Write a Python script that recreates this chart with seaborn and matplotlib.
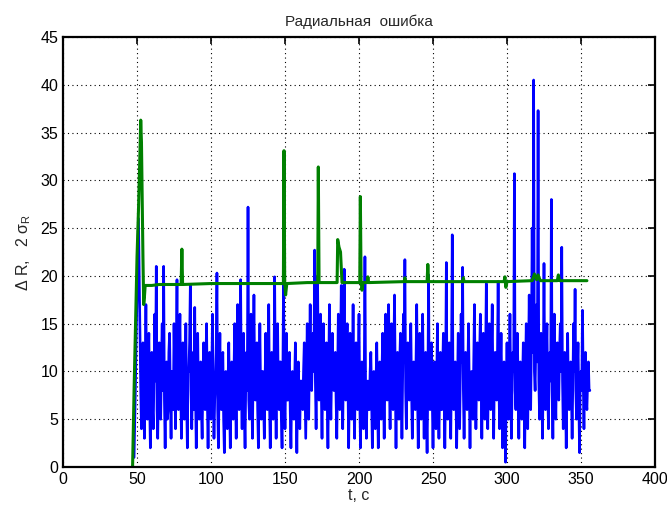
import numpy as np
import pandas as pd
import matplotlib
matplotlib.use("Agg")
import matplotlib.pyplot as plt
import seaborn as sns

# radial error dR, one value every 0.5 s starting at t = 48 s (one row = 10 s)
t_start = 48
t_step = 0.5
dR = [
    1, 5, 9, 14, 18, 22, 26, 20, 14, 8, 4, 9, 13, 7, 3, 10, 17, 9, 5, 11,
    14, 7, 2, 8, 12, 6, 4, 10, 16, 9, 21, 6, 3, 9, 13, 7, 5, 11, 15, 8,
    21, 7, 2, 9, 11, 5, 6, 12, 14, 8, 3, 10, 9, 6, 15, 9, 4, 11, 19.6, 7,
    6, 12, 16, 8, 3, 10, 13, 6, 5, 9, 15, 7, 2, 10, 10, 13, 19, 8, 4, 9,
    12, 6, 16.7, 8, 2, 9, 14, 7, 5, 10, 11, 6, 3, 9, 13, 8, 6, 11, 15, 7,
    2, 8, 12, 6, 5, 10, 16, 8, 3, 7, 9, 12, 20.3, 6, 2, 9, 14, 7, 6, 11,
    12, 5, 1.5, 8, 10, 6, 4, 9, 13, 7, 2, 8, 11, 6, 5, 10, 15, 8, 3, 9,
    17, 7, 6, 12, 19.6, 8, 4, 10, 14, 6, 2, 9, 12, 8, 27.2, 7, 5, 10, 16, 8,
    3, 11, 18, 9, 7, 12, 13, 6, 2, 9, 15, 8, 5, 10, 10, 7, 3, 9, 14, 8,
    6, 11, 17, 7, 2, 9, 12, 6, 5, 10, 19.9, 8, 3, 9, 15, 7, 6, 11, 11, 5,
    2, 9, 20, 8, 4, 10, 14, 7, 7, 11, 12, 6, 2, 8, 10, 6, 5, 9, 13, 7,
    1.5, 8, 11, 6, 4, 9, 9, 7, 6, 10, 13, 8, 3, 9, 15, 7, 5, 11, 17, 9,
    8, 12, 14, 10, 22.7, 9, 4, 11, 20, 10, 7, 12, 16, 8, 3, 10, 15, 9, 6, 11,
    13, 7, 2, 9, 17, 8, 5, 10, 14, 9, 8, 11, 12, 7, 3, 9, 16, 10, 6, 12,
    19, 9, 4, 11, 20.7, 8, 7, 12, 15, 9, 2, 8, 14, 10, 5, 9, 17, 7, 3, 10,
    13, 8, 6, 11, 16, 7, 2, 8, 11, 6, 4, 9, 22, 7, 3, 8, 9, 6, 6, 10,
    12, 7, 2, 8, 10, 6, 4, 9, 13, 7, 2, 8, 11, 6, 5, 10, 14, 8, 3, 9,
    16, 10, 7, 12, 17, 9, 4, 11, 15, 8, 6, 12, 18, 9, 2, 10, 12, 8, 5, 11,
    14, 9, 3, 10, 16, 11, 21.7, 8, 4, 10, 13, 9, 7, 12, 15, 8, 3, 9, 11, 7,
    6, 11, 17, 8, 2, 9, 14, 7, 5, 10, 16, 8, 3, 9, 12, 6, 1.5, 8, 20.1, 7,
    6, 10, 13, 7, 2, 8, 11, 6, 4, 9, 15, 7, 3, 8, 12, 6, 6, 10, 14, 8,
    2, 9, 21.4, 7, 5, 10, 13, 8, 3, 11, 24.3, 9, 6, 10, 11, 7, 2, 8, 14, 9,
    4, 10, 16, 11, 20.9, 8, 3, 9, 12, 7, 6, 10, 15, 8, 2, 9, 10, 7, 5, 11,
    17, 9, 4, 10, 13, 8, 7, 12, 16, 9, 3, 10, 14, 8, 5, 11, 19.2, 9, 4, 10,
    15, 8, 6, 12, 17, 9, 3, 10, 12, 8, 7, 11, 19.4, 9, 4, 10, 14, 8, 2, 9,
    11, 6, 0.5, 8, 13, 7, 5, 10, 16, 8, 3, 9, 12, 10, 30.7, 8, 6, 11, 14, 9,
    3, 10, 11, 8, 5, 9, 13, 7, 2, 10, 15, 9, 4, 11, 18, 10, 6, 13, 25, 12,
    40.5, 10, 8, 13, 17, 11, 37.3, 9, 5, 12, 14, 8, 3, 10, 21.3, 9, 6, 11, 15, 8,
    4, 10, 12, 9, 28, 8, 3, 10, 16, 9, 5, 11, 13, 8, 7, 12, 15, 10, 23, 9,
    4, 11, 12, 8, 2, 9, 14, 7, 6, 10, 11, 8, 3, 9, 15, 10, 18.6, 8, 5, 10,
    13, 7, 1.5, 9, 10, 8, 16.4, 9, 4, 10, 12, 7, 6, 9, 11, 8, 8,
]

# 2 sigma_R estimate, breakpoints
sig_t = [47, 48, 49, 50, 51, 52, 52.5, 53, 53.5, 54, 54.5, 55, 55.5, 60, 65,
         79.8, 80.3, 80.8, 100, 120, 140, 148.9, 149.3, 149.8, 150.4, 151.2,
         165, 172.1, 172.5, 173, 185.2, 185.6, 186.5, 187.5, 188.5,
         200.5, 200.9, 201.4, 202, 202.8, 205.5, 206, 206.5, 230.5, 231,
         231.5, 246, 246.5, 247, 270, 270.5, 271, 298, 298.6, 299.2, 300,
         317, 318.5, 320, 321, 322.5, 334, 334.7, 335.5, 354]
sig_v = [0, 8, 15, 22, 27, 33, 36.3, 34, 28, 22, 17, 17.8, 19.0, 19.0, 19.1,
         19.1, 22.8, 19.1, 19.2, 19.2, 19.2, 19.2, 33.1, 19.3, 18.0, 19.2,
         19.3, 19.3, 31.4, 19.3, 19.3, 23.8, 23.0, 22.5, 19.3,
         19.3, 28.3, 19.5, 18.5, 19.3, 19.3, 19.9, 19.3, 19.4, 19.8,
         19.4, 19.4, 21.2, 19.4, 19.4, 19.8, 19.4, 19.4, 19.9, 18.8, 19.4,
         19.5, 20.2, 19.6, 20.1, 19.5, 19.5, 20.1, 19.5, 19.5]

t_dR = t_start + t_step * np.arange(len(dR))
df_dR = pd.DataFrame({"t": t_dR, "v": dR})
df_sig = pd.DataFrame({"t": sig_t, "v": sig_v})

sns.set_style("white")
plt.rcParams['font.family'] = ['Liberation Sans', 'DejaVu Sans']
plt.rcParams['mathtext.fontset'] = 'custom'
plt.rcParams['mathtext.rm'] = 'Liberation Sans'
plt.rcParams['mathtext.it'] = 'Liberation Sans'

fig = plt.figure(figsize=(6.67, 5.11), dpi=100)
ax = fig.add_axes([0.0945, 0.0861, 0.8875, 0.8415])

sns.lineplot(data=df_dR, x="t", y="v", color="#0000ff", linewidth=1.9, ax=ax)
sns.lineplot(data=df_sig, x="t", y="v", color="#008000", linewidth=2.2, ax=ax)

ax.set_xlim(0, 400)
ax.set_ylim(0, 45)
ax.set_xticks(range(0, 401, 50))
ax.set_yticks(range(0, 46, 5))
ax.grid(True, color="black", linestyle=(0, (1, 3)), linewidth=0.8)
ax.tick_params(direction="in", length=5, width=1.2, labelsize=11.5,
               top=True, right=True, colors="black")
for s in ax.spines.values():
    s.set_color("black")
    s.set_linewidth(1.6)

ax.set_title("Радиальная  ошибка", fontsize=11, pad=8)
ax.set_xlabel("t, c", fontsize=11.5, labelpad=1)
ax.set_ylabel(r"Δ R,   2 σ$_{\rm R}$", fontsize=11.5, labelpad=5)

plt.savefig("out.png", dpi=100)
